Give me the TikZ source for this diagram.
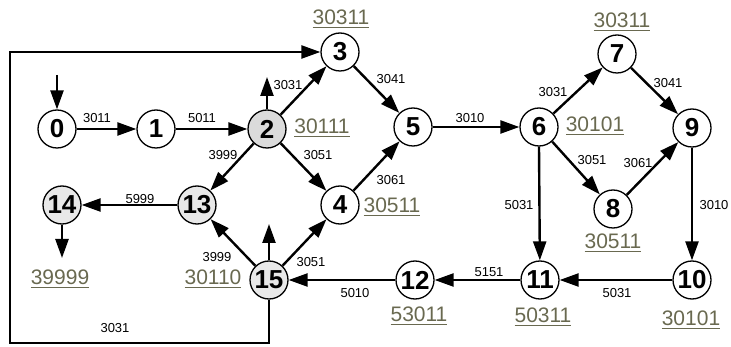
\documentclass[tikz,border=0pt]{standalone}
\usepackage{fontspec}
\setmainfont{Liberation Sans}
\usetikzlibrary{arrows.meta}
\definecolor{dcol}{RGB}{105,105,80}
\newcommand\ulab[1]{\sbox0{#1}\usebox0\llap{\rule[-3.5pt]{\wd0}{1.4pt}}}
\tikzset{
  st/.style={circle,draw,line width=1.3pt,minimum size=38pt,inner sep=0pt,font=\fontsize{26}{26}\selectfont\bfseries,fill=white},
  gst/.style={st,fill=gray!18},
  arr/.style={line width=2.4pt,-{Triangle[length=19pt,width=13pt]}},
  elab/.style={font=\fontsize{13}{13}\selectfont,inner sep=0pt},
  dlab/.style={font=\fontsize{21}{21}\selectfont,text=dcol,inner sep=0pt}
}
\begin{document}
\begin{tikzpicture}[x=1pt,y=-1pt]
\useasboundingbox (0,0) rectangle (731,347);
% states
\node[st]  (n0)  at (57,129)  {0};
\node[st]  (n1)  at (156,129) {1};
\node[gst,fill=gray!28] (n2)  at (267,129) {2};
\node[st]  (n3)  at (340,52)  {3};
\node[st]  (n5)  at (413,127) {5};
\node[st]  (n6)  at (539,127) {6};
\node[st]  (n7)  at (617,54)  {7};
\node[st]  (n9)  at (692,128) {9};
\node[gst] (n14) at (62,205)  {14};
\node[gst] (n13) at (197,205) {13};
\node[st]  (n4)  at (340,205) {4};
\node[st]  (n8)  at (613,209) {8};
\node[gst] (n15) at (269,280) {15};
\node[st]  (n12) at (415,280) {12};
\node[st]  (n11) at (540,280) {11};
\node[st]  (n10) at (692,280) {10};
% free ends
\coordinate (in0) at (57,75);
\coordinate (s2) at (267,77);
\coordinate (s14) at (62,258);
\coordinate (s15) at (269,224);
\coordinate (c1) at (269,343);
\coordinate (c2) at (10,343);
\coordinate (c3) at (10,52);
% connectors
\draw[arr] (in0) -- (n0);
\draw[arr] (n0) -- (n1);
\draw[arr] (n1) -- (n2);
\draw[arr] (n2.north) -- (s2);
\draw[arr] (n2) -- (n3);
\draw[arr] (n2) -- (n13);
\draw[arr] (n2) -- (n4);
\draw[arr] (n3) -- (n5);
\draw[arr] (n4) -- (n5);
\draw[arr] (n5) -- (n6);
\draw[arr] (n6) -- (n7);
\draw[arr] (n7) -- (n9);
\draw[arr] (n6) -- (n8);
\draw[arr] (n8) -- (n9);
\draw[arr] (n6.south) -- (n11);
\draw[arr] (n9.south) -- (n10);
\draw[arr] (n10) -- (n11);
\draw[arr] (n11) -- (n12);
\draw[arr] (n12) -- (n15);
\draw[arr] (n13) -- (n14);
\draw[arr] (n14.south) -- (s14);
\draw[arr] (n15) -- (n13);
\draw[arr] (n15) -- (n4);
\draw[arr] (n15.north) -- (s15);
\draw[arr] (n15.south) -- (c1) -- (c2) -- (c3) -- (n3);
% edge labels
\node[elab] (l01) at (97,118) {3011};
\node[elab] (l12) at (202,118) {5011};
\node[elab] (l23) at (288,85) {3031};
\node[elab] (l213) at (223,155) {3999};
\node[elab] (l24) at (318,155) {3051};
\node[elab] (l35) at (391,79) {3041};
\node[elab] (l45) at (391,180) {3061};
\node[elab] (l56) at (470,118) {3010};
\node[elab] (l67) at (553,92) {3031};
\node[elab] (l79) at (668,83) {3041};
\node[elab] (l68) at (592,160) {3051};
\node[elab] (l89) at (638,163) {3061};
\node[elab] (l611) at (519,205) {5031};
\node[elab] (l910) at (714,205) {3010};
\node[elab] (l1011) at (617,293) {5031};
\node[elab] (l1112) at (489,272) {5151};
\node[elab] (l1215) at (355,293) {5010};
\node[elab] (l1314) at (140,199) {5999};
\node[elab] (l1513) at (217,257) {3999};
\node[elab] (l154) at (311,262) {3051};
\node[elab] (l153) at (115,328) {3031};
% data labels
\node[dlab] (d3) at (341,19) {\ulab{30311}};
\node[dlab] (d2) at (322,128) {\ulab{30111}};
\node[dlab] (d4) at (392,207) {\ulab{30511}};
\node[dlab] (d6) at (595,126) {\ulab{30101}};
\node[dlab] (d7) at (622,22) {\ulab{30311}};
\node[dlab] (d8) at (613,243) {\ulab{30511}};
\node[dlab] (d14) at (60,279) {\ulab{39999}};
\node[dlab] (d15) at (213,279) {\ulab{30110}};
\node[dlab] (d12) at (419,316) {\ulab{53011}};
\node[dlab] (d11) at (543,317) {\ulab{50311}};
\node[dlab] (d10) at (691,320) {\ulab{30101}};
\end{tikzpicture}
\end{document}
